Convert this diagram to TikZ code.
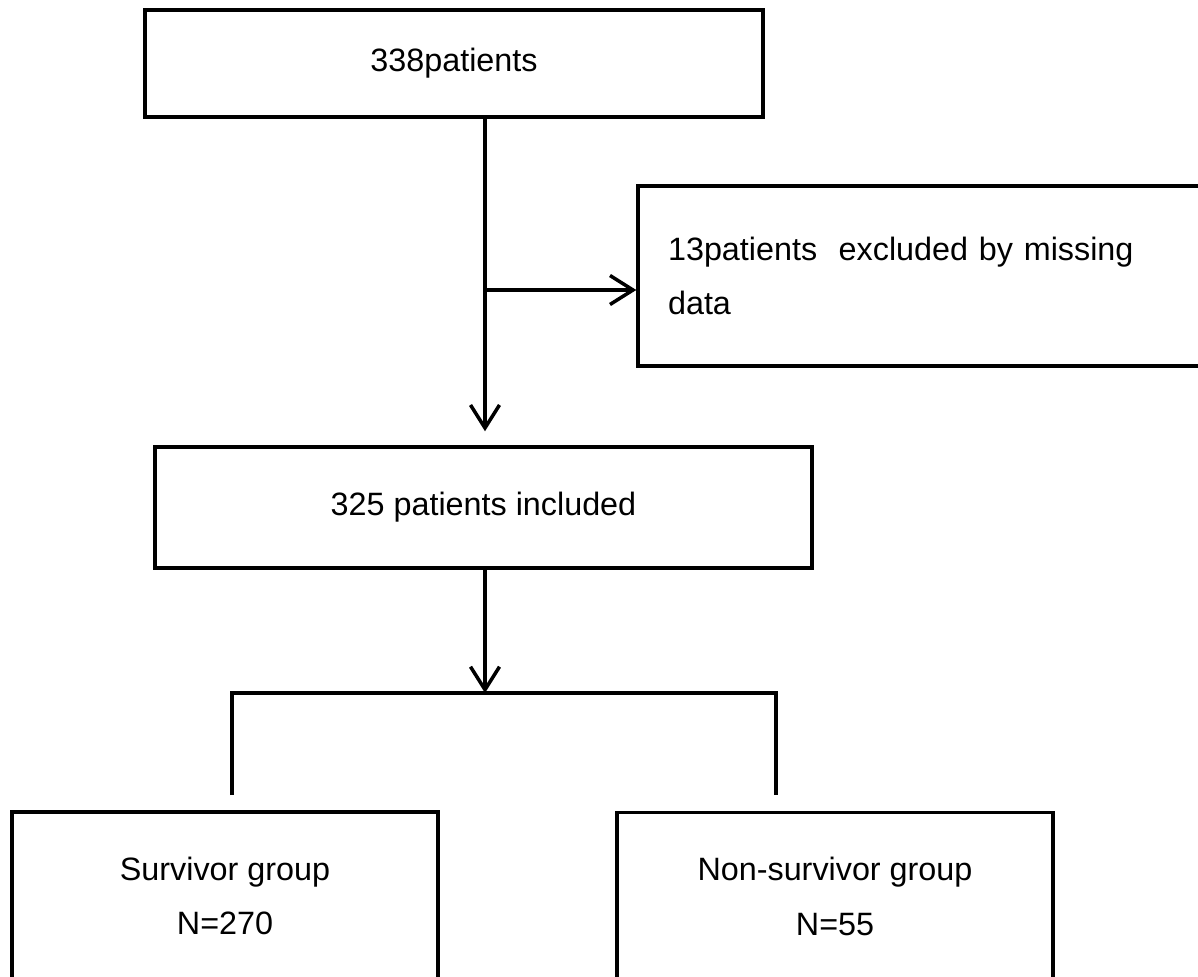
\documentclass[tikz,border=0pt]{standalone}
\usepackage{fontspec}
\setmainfont{Liberation Sans}
\usetikzlibrary{arrows.meta,positioning}

\begin{document}
\begin{tikzpicture}[x=0.02cm, y=-0.02cm]
	\tikzstyle{process} = [rectangle, draw=black, line width=2pt, fill=white,
	inner sep=0pt, text centered, font=\fontsize{18.4}{31.2}\selectfont]
	\tikzstyle{arrow} = [line width=2pt, -{Straight Barb[length=0.46cm, width=0.58cm, line width=2pt]}]
	\tikzstyle{link} = [line width=2pt]
	\clip (0,0) rectangle (1198,977);
	\node (allPatients) [process, minimum width=12.36cm, minimum height=2.14cm] at (454,63.5) {338patients};
	\node (excluded) [process, minimum width=11.54cm, minimum height=3.6cm,
	text width=10.34cm, align=left] at (926.5,276) {13patients~ excluded by missing\\data};
	\node (included) [process, minimum width=13.14cm, minimum height=2.42cm] at (483.5,507.5) {325 patients included};
	\node (survivor) [process, minimum width=8.52cm, minimum height=3.36cm, align=center] at (225,896) {Survivor group\\N=270};
	\node (nonSurvivor) [process, minimum width=8.72cm, minimum height=3.36cm, align=center] at (835,896.5) {Non-survivor group\\N=55};
	\coordinate (split) at (485,290);
	\coordinate (fork) at (485,693);
	\coordinate (forkLeft) at (232,693);
	\coordinate (forkRight) at (776,693);
	\coordinate (leftEnd) at (232,795);
	\coordinate (rightEnd) at (776,795);
	\draw [arrow, shorten >=0.28cm] (allPatients.south -| split) -- (included.north -| split);
	\draw [arrow] (split) -- (split -| excluded.west);
	\draw [arrow] (included.south -| fork) -- (fork);
	\draw [link] (leftEnd) -- (forkLeft) -- (forkRight) -- (rightEnd);
\end{tikzpicture}
\end{document}
